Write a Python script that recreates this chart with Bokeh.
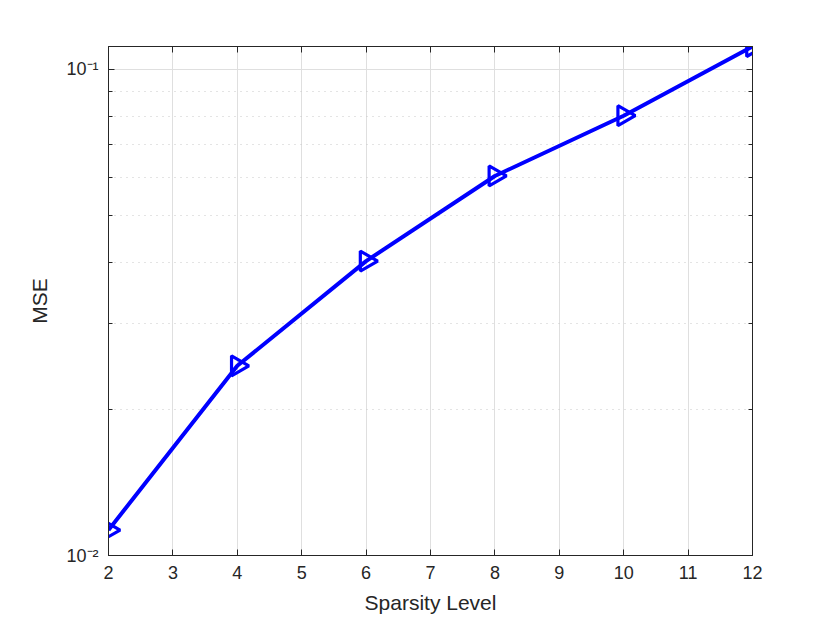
import math
from bokeh.plotting import figure
from bokeh.models import LinearAxis, LogAxis, Range1d, FixedTicker, CustomJSTickFormatter
from bokeh.embed import file_html
from bokeh.resources import INLINE

sparsity = [2, 4, 6, 8, 10, 12]
mse = [0.01128, 0.02455, 0.0403, 0.0603, 0.0802, 0.1113]
x_ticks = [2, 3, 4, 5, 6, 7, 8, 9, 10, 11, 12]
y_major = [0.01, 0.1]
y_minor = [0.02, 0.03, 0.04, 0.05, 0.06, 0.07, 0.08, 0.09]
y_labels = {0.01: "10\u207b\u00b2", 0.1: "10\u207b\u00b9"}

FONT = "Liberation Sans"
DARK = "#262626"

p = figure(frame_width=644, frame_height=509, y_axis_type="log",
           x_range=Range1d(2, 12), y_range=Range1d(0.01, 0.1113),
           output_backend="svg", toolbar_location=None,
           min_border_left=108, min_border_top=46, min_border_right=62, min_border_bottom=60,
           background_fill_color="white", border_fill_color="white")

p.outline_line_color = DARK
p.outline_line_width = 1

# grids
p.xgrid.ticker = FixedTicker(ticks=x_ticks)
p.xgrid.grid_line_color = "#dfdfdf"
p.xgrid.grid_line_width = 1
p.ygrid.ticker = FixedTicker(ticks=y_major, minor_ticks=y_minor)
p.ygrid.grid_line_color = "#dfdfdf"
p.ygrid.minor_grid_line_color = "#c8c8c8"
p.ygrid.minor_grid_line_dash = "1 5"

def style_axis(ax):
    ax.axis_line_color = DARK
    ax.major_tick_line_color = DARK
    ax.minor_tick_line_color = DARK
    ax.major_tick_in = 6
    ax.major_tick_out = 0
    ax.minor_tick_in = 4
    ax.minor_tick_out = 0
    ax.major_label_text_font = FONT
    ax.major_label_text_font_size = "18px"
    ax.major_label_text_color = DARK
    ax.axis_label_text_font = FONT
    ax.axis_label_text_font_size = "21px"
    ax.axis_label_text_font_style = "normal"
    ax.axis_label_text_color = DARK

xa = p.xaxis[0]
xa.ticker = FixedTicker(ticks=x_ticks)
style_axis(xa)
xa.minor_tick_line_color = None
xa.axis_label = "Sparsity Level"
xa.major_label_standoff = 10
xa.axis_label_standoff = 9

ya = p.yaxis[0]
ya.ticker = FixedTicker(ticks=y_major, minor_ticks=y_minor)
style_axis(ya)
ya.major_label_overrides = y_labels
ya.axis_label = "MSE"
ya.major_label_standoff = 10
ya.axis_label_standoff = 12

blank = CustomJSTickFormatter(code="return '';")

top = LinearAxis(ticker=FixedTicker(ticks=x_ticks), formatter=blank)
style_axis(top)
top.minor_tick_line_color = None
top.major_label_standoff = 0
p.add_layout(top, "above")

right = LogAxis(ticker=FixedTicker(ticks=y_major, minor_ticks=y_minor), formatter=blank)
style_axis(right)
right.major_label_standoff = 0
p.add_layout(right, "right")

p.line(sparsity, mse, line_color="#0000ff", line_width=4)
p.scatter(sparsity, mse, marker="triangle", size=20, angle=-math.pi / 2,
          line_color="#0000ff", line_width=3.2, fill_alpha=0)

open("out.html", "w").write(file_html(p, INLINE))
